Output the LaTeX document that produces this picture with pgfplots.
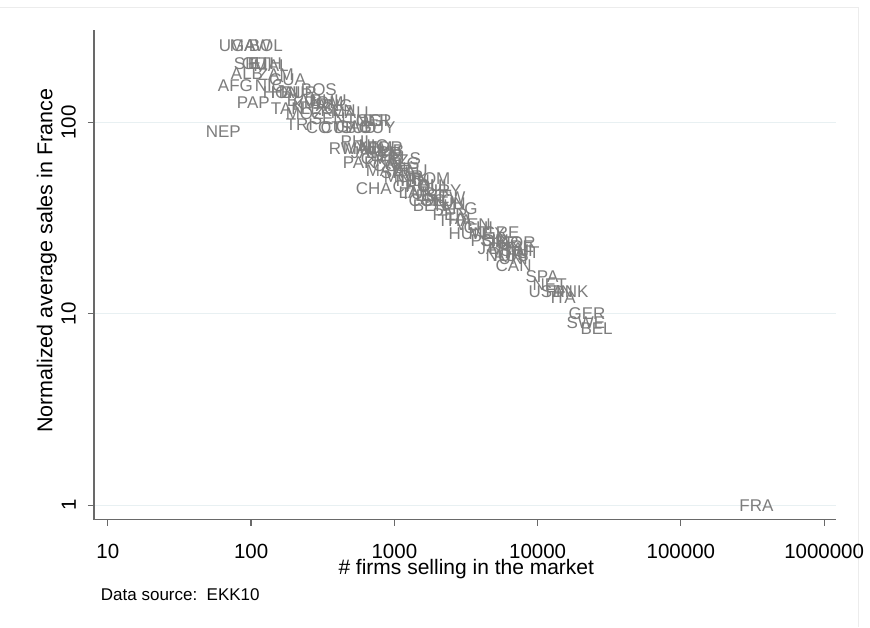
\documentclass[border=0pt]{standalone}
\usepackage{pgfplots}
\pgfplotsset{compat=1.18}
\usepackage{fontspec}
\setmainfont{Liberation Sans}
\definecolor{labgray}{RGB}{125,125,125}
\definecolor{gridc}{RGB}{232,240,242}
\definecolor{axc}{RGB}{105,105,105}
\definecolor{framec}{RGB}{236,236,236}
\begin{document}
\begin{tikzpicture}
\path[fill=white] (0pt,0pt) rectangle (870pt,627pt);
\draw[framec, line width=1pt] (0pt,619pt) -- (858pt,619pt) -- (858pt,0pt);
\begin{axis}[
  at={(93.5pt,107pt)}, anchor=south west,
  scale only axis, width=742.5pt, height=490pt,
  xmode=log, ymode=log,
  xmin=8, xmax=1.21e6, ymin=0.84, ymax=304,
  axis x line*=bottom, axis y line*=left,
  axis line style={axc, line width=1.3pt},
  xtick={10,100,1000,10000,100000,1000000},
  xticklabels={10,100,1000,10000,100000,1000000},
  ytick={1,10,100}, yticklabels={1,10,100},
  xminorticks=false, yminorticks=false,
  tick align=outside, major tick length=6pt,
  tick style={axc, line width=1.2pt},
  ymajorgrids, grid style={gridc, line width=1.4pt},
  xticklabel style={font=\fontsize{20.5}{24}\selectfont, anchor=base, yshift=-33pt},
  yticklabel style={font=\fontsize{20.5}{24}\selectfont, rotate=90, anchor=south, inner sep=0pt},
  yticklabel shift=12pt,
  clip=false,
]
\addplot[draw=none, mark=none, nodes near coords, point meta=explicit symbolic,
  every node near coord/.append style={anchor=west, inner sep=0pt, text=labgray,
    font=\fontsize{17}{17}\selectfont, text height=12.2pt, text depth=0pt}]
table[meta=label] {
x y label
59.4 252 UGA
71.0 252 MAW
96.2 252 BOL
75.6 203 SIE
86.0 203 GUI
94.6 203 ETH
104 199 MAL
72.1 180 ALB
111 178 ZAM
133 168 GUA
58.5 156 AFG
106 156 NIG
120.5 143.5 HON
137 143.5 HAI
161 143.5 BUR
222 149 BOS
79.4 127 PAP
137 118 TAN
177 130 BAN
233 127 DOM
174 111 MOZ
305 115.6 KEN
174 97.7 TRI
240 94.2 COT
305 94.2 CUB
389 95.3 GAB
536 102.4 NER
260 105 SEN
222 118 LES
282 122.7 ANG
359 112.8 MAU
457 102.4 TOG
421 94.2 SUD
562 94.2 GUY
600 102.4 DJI
195 124 KYR
260 130 BHU
48.2 89.8 NEP
421 79.6 PHI
348 73.1 RWA
435 73.1 MAD
536 74.0 YEM
661 74.0 JOR
776 71.4 LIB
495 69.7 JAM
562 75.9 NIC
682 67.3 LEB
912 64.9 ELS
435 61.8 PAK
869 61.1 ALG
581 64.9 CMR
705 59.6 COL
630 69.7 ECU
841 52.2 MOR
536 45.2 CHA
971 56.1 SAU
1104 49.8 IRN
1652 44.2 URY
1104 42.6 TUR
1652 40.6 NEW
1340 36.9 BEN
1788 37.8 TUN
1845 33.1 PER
2001 30.8 THA
2672 29.3 VEN
3040 28.3 CHI
2388 26.3 HUN
3291 26.3 MEX
4121 26.6 GRE
3802 22.0 JAP
4920 20.2 AUS
5960 22.5 IRE
4688 23.6 ISR
5080 17.9 CAN
8222 15.7 SPA
9204 14.3 NET
8630 13.1 USA
11330 13.1 FIN
12680 13.1 DNK
12280 12.2 ITA
16410 10.06 GER
15880 9.03 SWE
19880 8.40 BEL
255300 1 FRA
739 63.3 KAZ
940 57.5 VIE
1019 49.8 IND
802 54.8 SRI
1297 51.0 ROM
1197 46.9 POL
1476 46.9 BUL
971 46.3 CRO
1069 43.1 LAT
1406 41.6 EST
1256 39.1 COS
1524 39.1 SLO
2275 31.5 TAI
2099 35.6 ARG
630 56.1 MAY
3990 24.2 SIN
3398 24.2 POR
5333 23.6 KOR
5508 21.5 SWI
5960 20.9 AUT
4325 20.2 NOR
4540 22.0 BRA
5333 19.5 UNI
};
\end{axis}
\node[anchor=base, font=\fontsize{21}{24}\selectfont] at (466pt,52.5pt) {\# firms selling in the market};
\node[anchor=base, rotate=90, font=\fontsize{21.5}{24}\selectfont] at (52pt,366pt) {Normalized average sales in France};
\node[anchor=base west, font=\fontsize{17}{20}\selectfont] at (97pt,26pt) {Data source:\ \ EKK10};
\end{tikzpicture}
\end{document}
